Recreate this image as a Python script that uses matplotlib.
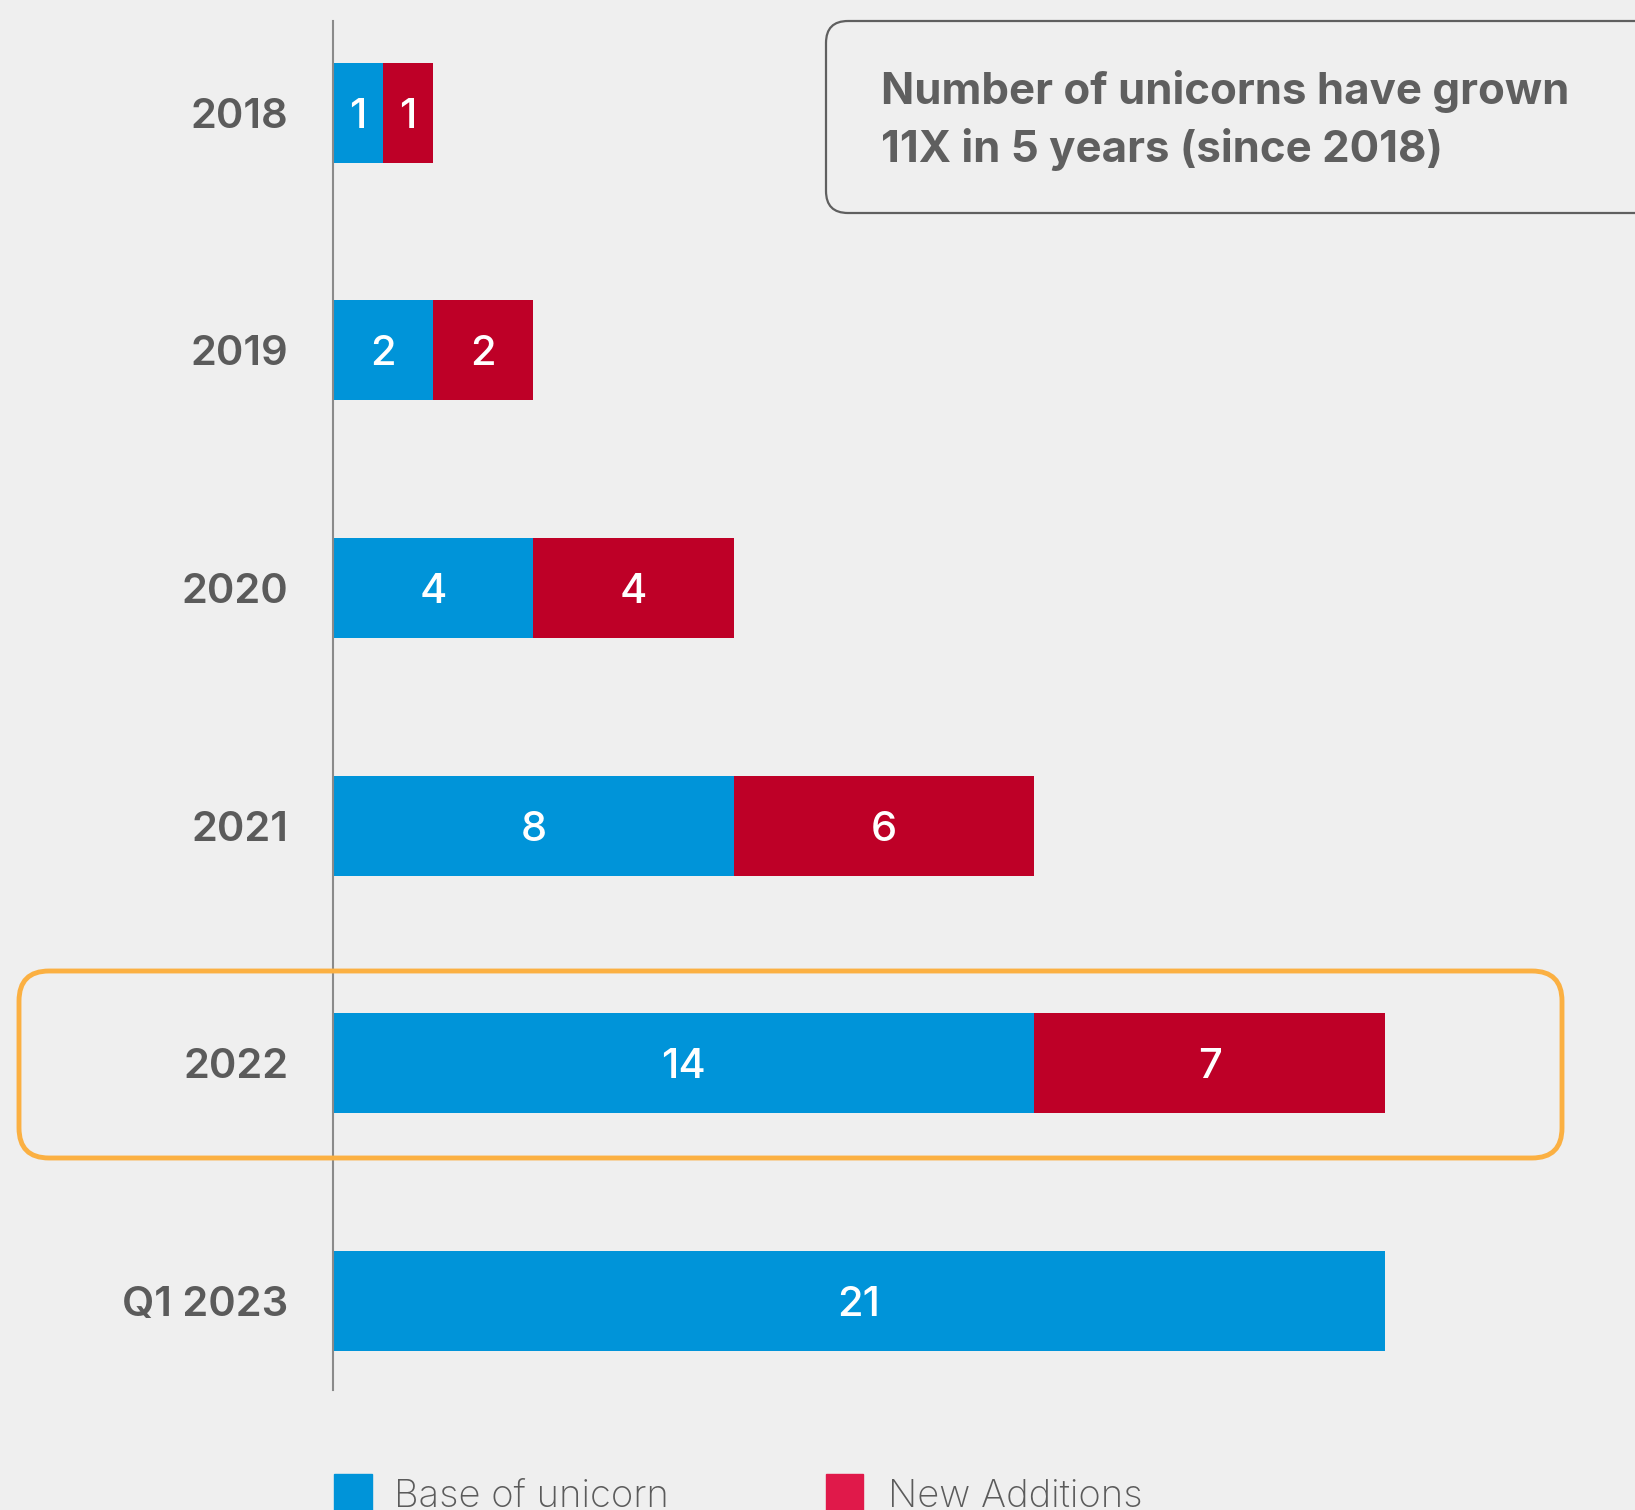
import matplotlib
matplotlib.use('Agg')
import matplotlib.pyplot as plt
from matplotlib.patches import FancyBboxPatch, Rectangle

# unicorn counts per period
periods = ['2018', '2019', '2020', '2021', '2022', 'Q1 2023']
base = [1, 2, 4, 8, 14, 21]
new_additions = [1, 2, 4, 6, 7, 0]
series_names = ['Base of unicorn', 'New Additions']
headline = ['Number of unicorns have grown', '11X in 5 years (since 2018)']

blue = '#0094D9'
red = '#BE0027'
legend_red = '#E0194A'
grey_text = '#5B5B5B'
bg = '#EFEFEF'

plt.rcParams['font.family'] = ['Inter', 'DejaVu Sans']

W, H = 1635, 1510
fig = plt.figure(figsize=(W / 100, H / 100), dpi=100, facecolor=bg)

# main axes, left spine doubles as the baseline
ax = fig.add_axes([333 / W, 1 - 1390 / H, (W - 333) / W, (1390 - 21) / H])
ax.set_facecolor('none')
ypos = list(range(len(periods)))
bar_h = 0.421
ax.barh(ypos, base, height=bar_h, color=blue)
ax.barh(ypos, new_additions, left=base, height=bar_h, color=red)
ax.set_xlim(0, (W - 333) / 50.1)
ax.set_ylim((1390 - 112.6) / 237.7, (21 - 112.6) / 237.7)

for y, b, n in zip(ypos, base, new_additions):
    ax.text(b / 2, y, str(b), ha='center', va='center_baseline', color='white',
            fontsize=30, fontweight='medium')
    if n > 0:
        ax.text(b + n / 2, y, str(n), ha='center', va='center_baseline',
                color='white', fontsize=30, fontweight='medium')

for s in ['top', 'right', 'bottom']:
    ax.spines[s].set_visible(False)
ax.spines['left'].set_color('#8A8A8A')
ax.spines['left'].set_linewidth(1.5)
ax.set_xticks([])
ax.set_yticks(ypos, labels=periods)
ax.tick_params(axis='y', length=0, pad=32, labelsize=30, labelcolor=grey_text)
for lbl in ax.get_yticklabels():
    lbl.set_fontweight('semibold')

# overlay in pixel units for the boxes and legend
ov = fig.add_axes([0, 0, 1, 1])
ov.set_xlim(0, W)
ov.set_ylim(H, 0)
ov.axis('off')
ov.patch.set_visible(False)

ov.add_patch(FancyBboxPatch((826, 21), 900, 192,
                            boxstyle='round,pad=0,rounding_size=22',
                            fc='none', ec='#5F5F5F', lw=1.6))
ov.text(881, 104, headline[0], fontsize=31.5, fontweight='bold',
        color='#5F5F5F', va='baseline')
ov.text(881, 162, headline[1], fontsize=31.5, fontweight='bold',
        color='#5F5F5F', va='baseline')

ov.add_patch(FancyBboxPatch((19, 971), 1543, 187,
                            boxstyle='round,pad=0,rounding_size=30',
                            fc='none', ec='#FBB042', lw=3.5))

ov.add_patch(Rectangle((334, 1474), 38, 40, color=blue))
ov.text(394, 1507, series_names[0], fontsize=27.5, fontweight='light',
        color=grey_text, va='baseline')
ov.add_patch(Rectangle((826, 1474), 37, 40, color=legend_red))
ov.text(888, 1507, series_names[1], fontsize=27.5, fontweight='light',
        color=grey_text, va='baseline')

fig.savefig('out.png', dpi=100, facecolor=bg)
